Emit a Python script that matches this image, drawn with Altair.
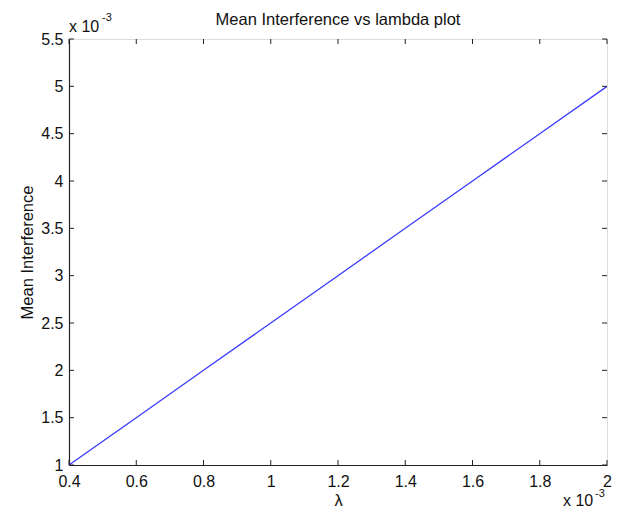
import altair as alt
import pandas as pd

# data (units of 1e-3)
LAMBDA = [0.4, 0.6, 0.8, 1.0, 1.2, 1.4, 1.6, 1.8, 2.0]
MEAN_INTERFERENCE = [1.0, 1.5, 2.0, 2.5, 3.0, 3.5, 4.0, 4.5, 5.0]
XTICKS = [0.4, 0.6, 0.8, 1.0, 1.2, 1.4, 1.6, 1.8, 2.0]
YTICKS = [1.0, 1.5, 2.0, 2.5, 3.0, 3.5, 4.0, 4.5, 5.0, 5.5]
TITLE = "Mean Interference vs lambda plot"
XTITLE = "λ"
YTITLE = "Mean Interference"

W, H = 538, 426
FONT = "Liberation Sans"
INK = "#111111"
TL = 5

df = pd.DataFrame({"lam": LAMBDA, "mi": MEAN_INTERFERENCE})
xt = pd.DataFrame({"v": XTICKS})
yt = pd.DataFrame({"v": YTICKS})

xscale = alt.Scale(domain=[0.4, 2.0], nice=False, zero=False)
yscale = alt.Scale(domain=[1.0, 5.5], nice=False, zero=False)

xaxis = alt.Axis(values=XTICKS, format="~g", tickSize=0, labelFontSize=16, labelFont=FONT,
                 labelColor=INK, labelPadding=8, domainColor="#222222", domainWidth=1.2, grid=False,
                 title=XTITLE, titleFont=FONT, titleFontSize=16.5, titleFontWeight="normal",
                 titleColor=INK, titleX=W / 2, titleY=40, titleBaseline="alphabetic",
                 labelFlush=False, labelOverlap=False)
yaxis = alt.Axis(values=YTICKS, format="~g", tickSize=0, labelFontSize=16, labelFont=FONT,
                 labelColor=INK, labelPadding=6, domainColor="#222222", domainWidth=1.2, grid=False,
                 title=YTITLE, titleFont=FONT, titleFontSize=16.5, titleFontWeight="normal",
                 titleColor=INK, titleX=-37, titleY=H / 2, titleAngle=-90,
                 titleBaseline="alphabetic", labelFlush=False, labelOverlap=False)

line = alt.Chart(df).mark_line(color="#3a3aff", strokeWidth=1.3, clip=True).encode(
    x=alt.X("lam:Q", scale=xscale, axis=xaxis),
    y=alt.Y("mi:Q", scale=yscale, axis=yaxis),
)

tick_style = dict(color="#222222", strokeWidth=1)
xb = alt.Chart(xt).mark_rule(**tick_style).encode(
    x=alt.X("v:Q", scale=xscale), y=alt.value(H), y2=alt.value(H - TL))
xtop = alt.Chart(xt).mark_rule(**tick_style).encode(
    x=alt.X("v:Q", scale=xscale), y=alt.value(0), y2=alt.value(TL))
yl = alt.Chart(yt).mark_rule(**tick_style).encode(
    y=alt.Y("v:Q", scale=yscale), x=alt.value(0), x2=alt.value(TL))
yr = alt.Chart(yt).mark_rule(**tick_style).encode(
    y=alt.Y("v:Q", scale=yscale), x=alt.value(W), x2=alt.value(W - TL))

one = pd.DataFrame({"a": [0]})

def txt(s, x, y, size, align="left"):
    return alt.Chart(one).mark_text(text=s, font=FONT, fontSize=size, color=INK,
                                    align=align, baseline="alphabetic").encode(
        x=alt.value(x), y=alt.value(y))

title = txt(TITLE, W / 2, -14, 16.5, align="center")
e1 = txt("x 10", 0, -7, 16)
e1s = txt("-3", 33, -18, 11)
e2 = txt("x 10", 494, 467, 16)
e2s = txt("-3", 526, 458, 11)

chart = alt.layer(line, xb, xtop, yl, yr, title, e1, e1s, e2, e2s).properties(
    width=W, height=H,
    autosize=alt.AutoSizeParams(type="none"),
    padding={"left": 61, "top": 31, "right": 5, "bottom": 46},
).configure_view(stroke="#222222", strokeWidth=1.2).configure(background="white")

chart.save("out.html", embed_options={"renderer": "svg", "actions": False})
